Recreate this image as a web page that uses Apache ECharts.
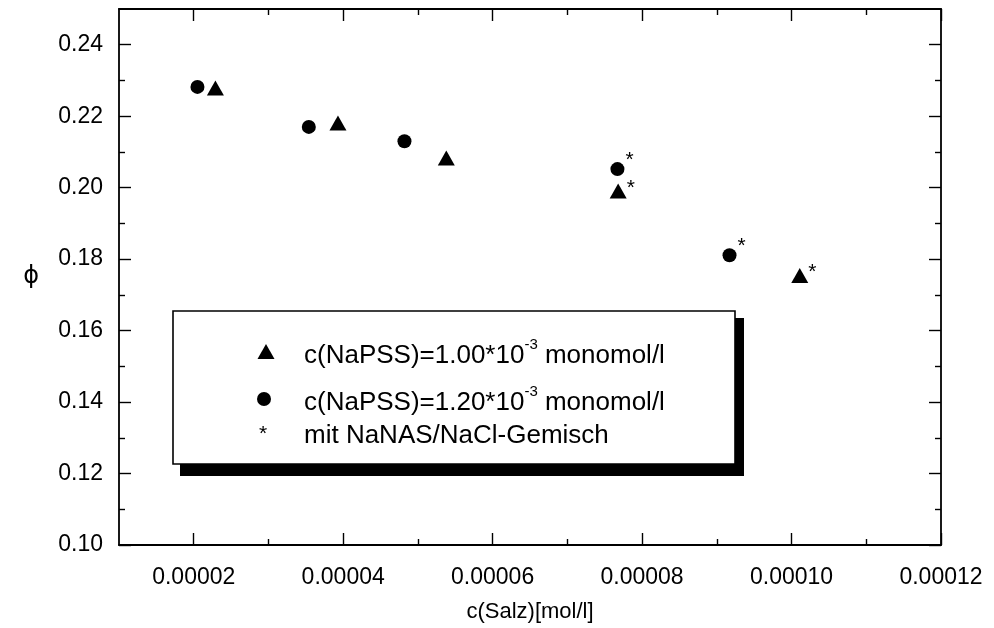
<!DOCTYPE html>
<html>
<head>
<meta charset="utf-8">
<script src="https://cdn.jsdelivr.net/npm/echarts@6/dist/echarts.min.js"></script>
<style>
html,body{margin:0;padding:0;background:#fff;}
#chart{width:994px;height:628px;}
</style>
</head>
<body>
<div id="chart"></div>
<script>
// ---- data ----
var seriesNames = ['c(NaPSS)=1.00*10-3 monomol/l', 'c(NaPSS)=1.20*10-3 monomol/l'];
var starNote = 'mit NaNAS/NaCl-Gemisch';
var triX = [0.0000229, 0.0000393, 0.0000538, 0.0000768, 0.0001011];
var triY = [0.2279, 0.2181, 0.2083, 0.1991, 0.1754];
var triStar = [false, false, false, true, true];
var cirX = [0.0000205, 0.0000354, 0.0000482, 0.0000767, 0.0000917];
var cirY = [0.2282, 0.2170, 0.2130, 0.2052, 0.1811];
var cirStar = [false, false, false, true, true];
var xMajor = [0.00002, 0.00004, 0.00006, 0.00008, 0.00010, 0.00012];
var xMinor = [0.00003, 0.00005, 0.00007, 0.00009, 0.00011];
var yMajor = [0.10, 0.12, 0.14, 0.16, 0.18, 0.20, 0.22, 0.24];
var yMinor = [0.11, 0.13, 0.15, 0.17, 0.19, 0.21, 0.23];
var xTitle = 'c(Salz)[mol/l]';
var yTitle = 'ϕ';

var FONT = 'Liberation Sans, Arial, sans-serif';
var chart = echarts.init(document.getElementById('chart'), null, {renderer: 'canvas'});

function axisX(pos, ticks, len, labels, line, name) {
  return {
    type: 'value', position: pos, min: 0.00001, max: 0.00012,
    axisLine: {show: line, onZero: false, lineStyle: {color: '#000', width: 1.8}},
    axisTick: {show: true, inside: true, length: len, customValues: ticks, lineStyle: {color: '#000', width: 1.4}},
    axisLabel: labels ? {show: true, customValues: ticks, formatter: function (v) { return v.toFixed(5); },
      color: '#000', fontSize: 23, fontFamily: FONT, margin: 21} : {show: false},
    splitLine: {show: false},
    name: name || '', nameLocation: 'middle', nameGap: 56,
    nameTextStyle: {color: '#000', fontSize: 22, fontFamily: FONT}
  };
}
function axisY(pos, ticks, len, labels, line, name) {
  return {
    type: 'value', position: pos, min: 0.10, max: 0.25,
    axisLine: {show: line, onZero: false, lineStyle: {color: '#000', width: 1.8}},
    axisTick: {show: true, inside: true, length: len, customValues: ticks, lineStyle: {color: '#000', width: 1.4}},
    axisLabel: labels ? {show: true, customValues: ticks, formatter: function (v) { return v.toFixed(2); },
      color: '#000', fontSize: 23, fontFamily: FONT, margin: 16} : {show: false},
    splitLine: {show: false},
    name: name || '', nameLocation: 'middle', nameGap: 80, nameRotate: 0,
    nameTextStyle: {color: '#000', fontSize: 24, fontFamily: 'DejaVu Sans, sans-serif', padding: [0, 0, 26, 0]}
  };
}

function buildData(xs, ys, stars, offset) {
  return xs.map(function (x, i) {
    return {
      value: [x, ys[i]],
      label: {show: stars[i], formatter: '*', position: 'right', offset: offset,
        color: '#000', fontSize: 21, fontFamily: FONT}
    };
  });
}

var LEG = 26;
var richStyle = {
  a: {fontSize: LEG, fontFamily: FONT, lineHeight: 32, verticalAlign: 'bottom'},
  s: {fontSize: 15, fontFamily: FONT, lineHeight: 32, verticalAlign: 'top'}
};

var option = {
  animation: false,
  backgroundColor: '#fff',
  grid: {left: 119, right: 53, top: 9, bottom: 83, containLabel: false},
  xAxis: [
    axisX('bottom', xMajor, 12, true, true, xTitle),
    axisX('bottom', xMinor, 6, false, false),
    axisX('top', xMajor, 12, false, true),
    axisX('top', xMinor, 6, false, false)
  ],
  yAxis: [
    axisY('left', yMajor, 12, true, true, yTitle),
    axisY('left', yMinor, 6, false, false),
    axisY('right', yMajor, 12, false, true),
    axisY('right', yMinor, 6, false, false)
  ],
  series: [
    {name: seriesNames[0], type: 'scatter', xAxisIndex: 0, yAxisIndex: 0,
     symbol: 'triangle', symbolSize: [17, 15], itemStyle: {color: '#000', opacity: 1},
     data: buildData(triX, triY, triStar, [-5, -3])},
    {name: seriesNames[1], type: 'scatter', xAxisIndex: 0, yAxisIndex: 0,
     symbol: 'circle', symbolSize: 14, itemStyle: {color: '#000', opacity: 1},
     data: buildData(cirX, cirY, cirStar, [-4, -9])}
  ],
  graphic: [
    {type: 'rect', shape: {x: 180, y: 318, width: 564, height: 158}, style: {fill: '#000'}, z: 10},
    {type: 'rect', shape: {x: 173, y: 311, width: 562, height: 153}, style: {fill: '#fff', stroke: '#000', lineWidth: 1.6}, z: 11},
    {type: 'polygon', shape: {points: [[266, 344], [274.5, 359], [257.5, 359]]}, style: {fill: '#000'}, z: 12},
    {type: 'circle', shape: {cx: 264, cy: 399, r: 7}, style: {fill: '#000'}, z: 12},
    {type: 'text', x: 259, y: 424, style: {text: '*', fill: '#000', font: '21px ' + FONT}, z: 12},
    {type: 'text', x: 304, y: 337, z: 12, style: {
      text: '{a|c(NaPSS)=1.00*10}{s|-3}{a| monomol/l}', fill: '#000', rich: richStyle}},
    {type: 'text', x: 304, y: 384, z: 12, style: {
      text: '{a|c(NaPSS)=1.20*10}{s|-3}{a| monomol/l}', fill: '#000', rich: richStyle}},
    {type: 'text', x: 304, y: 423, z: 12, style: {text: starNote, fill: '#000', font: LEG + 'px ' + FONT}}
  ]
};
chart.setOption(option);
</script>
</body>
</html>
